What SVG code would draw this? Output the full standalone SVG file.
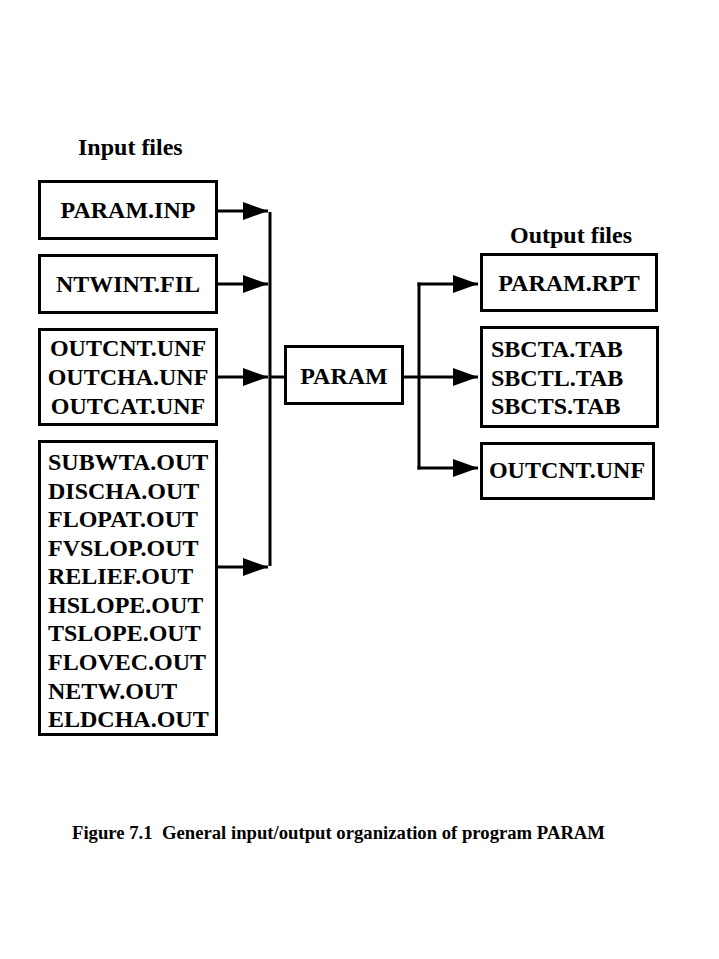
<svg xmlns="http://www.w3.org/2000/svg" width="719" height="959" viewBox="0 0 719 959">
<style>
.box{fill:#fff;stroke:#000;stroke-width:3}
.t{font-family:"Liberation Serif","Times New Roman",serif;font-weight:bold;font-size:24px;fill:#000}
.c{text-anchor:middle}
.ln{stroke:#000;stroke-width:3;fill:none}
</style>
<defs>
<marker id="ah" viewBox="0 0 25 18" refX="25" refY="9" markerWidth="25" markerHeight="18" markerUnits="userSpaceOnUse" orient="auto">
<path d="M0 0L25 9L0 18Z" fill="#000"/>
</marker>
</defs>
<rect width="719" height="959" fill="#fff"/>
<text class="t" x="78" y="155">Input files</text>
<text class="t" x="510" y="243">Output files</text>

<g id="paraminp"><rect class="box" x="39.5" y="181.5" width="177" height="57"/><text class="t c" x="128" y="218">PARAM.INP</text></g>
<g id="ntwint"><rect class="box" x="39.5" y="255.5" width="177" height="57"/><text class="t c" x="128" y="292">NTWINT.FIL</text></g>
<g id="outunf"><rect class="box" x="39.5" y="329.5" width="177" height="95"/>
<text class="t c" x="128" y="356">OUTCNT.UNF</text><text class="t c" x="128" y="385">OUTCHA.UNF</text><text class="t c" x="128" y="414">OUTCAT.UNF</text></g>
<g id="outfiles"><rect class="box" x="39.5" y="441.5" width="177" height="293"/>
<text class="t" x="48" y="470">SUBWTA.OUT</text>
<text class="t" x="48" y="498.6">DISCHA.OUT</text>
<text class="t" x="48" y="527.1">FLOPAT.OUT</text>
<text class="t" x="48" y="555.7">FVSLOP.OUT</text>
<text class="t" x="48" y="584.2">RELIEF.OUT</text>
<text class="t" x="48" y="612.8">HSLOPE.OUT</text>
<text class="t" x="48" y="641.4">TSLOPE.OUT</text>
<text class="t" x="48" y="669.9">FLOVEC.OUT</text>
<text class="t" x="48" y="698.5">NETW.OUT</text>
<text class="t" x="48" y="727">ELDCHA.OUT</text></g>
<g id="param"><rect class="box" x="285.5" y="346.5" width="117" height="57"/><text class="t c" x="344" y="384">PARAM</text></g>
<g id="paramrpt"><rect class="box" x="481.5" y="254.5" width="175" height="56"/><text class="t c" x="569" y="291">PARAM.RPT</text></g>
<g id="sbct"><rect class="box" x="481.5" y="327.5" width="176" height="99"/>
<text class="t" x="491" y="357">SBCTA.TAB</text><text class="t" x="491" y="386">SBCTL.TAB</text><text class="t" x="491" y="414">SBCTS.TAB</text></g>
<g id="outcnt"><rect class="box" x="481.5" y="443.5" width="172" height="55"/><text class="t c" x="567" y="478">OUTCNT.UNF</text></g>

<g id="connectors">
<line class="ln" x1="270" y1="212" x2="270" y2="566"/>
<line class="ln" x1="218" y1="211" x2="268" y2="211" marker-end="url(#ah)"/>
<line class="ln" x1="218" y1="284" x2="268" y2="284" marker-end="url(#ah)"/>
<line class="ln" x1="218" y1="377" x2="268" y2="377" marker-end="url(#ah)"/>
<line class="ln" x1="218" y1="567" x2="268" y2="567" marker-end="url(#ah)"/>
<line class="ln" x1="270" y1="377" x2="285" y2="377"/>
<line class="ln" x1="404" y1="377" x2="419" y2="377"/>
<line class="ln" x1="419" y1="282.5" x2="419" y2="469.5"/>
<line class="ln" x1="417.5" y1="284" x2="478" y2="284" marker-end="url(#ah)"/>
<line class="ln" x1="419" y1="377" x2="478" y2="377" marker-end="url(#ah)"/>
<line class="ln" x1="417.5" y1="468" x2="478" y2="468" marker-end="url(#ah)"/>
</g>
<text class="t" x="72" y="839" style="font-size:18.5px;white-space:pre" xml:space="preserve" textLength="533" lengthAdjust="spacingAndGlyphs">Figure 7.1  General input/output organization of program PARAM</text>
</svg>
